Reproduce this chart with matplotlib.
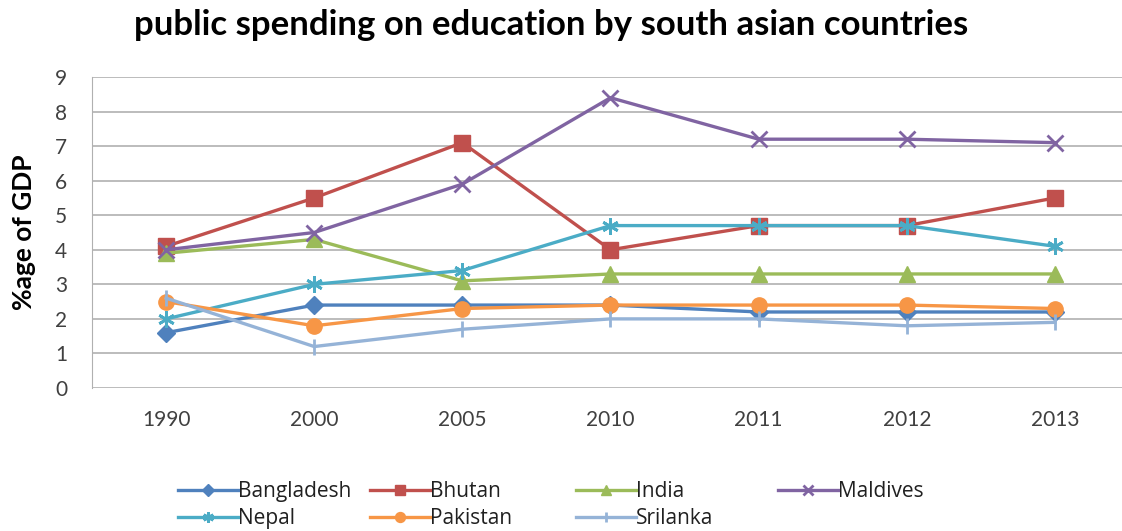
import matplotlib
matplotlib.use("Agg")
import matplotlib.pyplot as plt

years = ["1990", "2000", "2005", "2010", "2011", "2012", "2013"]
bangladesh = [1.6, 2.4, 2.4, 2.4, 2.2, 2.2, 2.2]
bhutan = [4.1, 5.5, 7.1, 4.0, 4.7, 4.7, 5.5]
india = [3.9, 4.3, 3.1, 3.3, 3.3, 3.3, 3.3]
maldives = [4.0, 4.5, 5.9, 8.4, 7.2, 7.2, 7.1]
nepal = [2.0, 3.0, 3.4, 4.7, 4.7, 4.7, 4.1]
pakistan = [2.5, 1.8, 2.3, 2.4, 2.4, 2.4, 2.3]
srilanka = [2.6, 1.2, 1.7, 2.0, 2.0, 1.8, 1.9]
y_ticks = [0, 1, 2, 3, 4, 5, 6, 7, 8, 9]

series = [
    ("Bangladesh", bangladesh, "#4F81BD", "D", 9),
    ("Bhutan", bhutan, "#C0504D", "s", 11),
    ("India", india, "#9BBB59", "^", 11),
    ("Maldives", maldives, "#8064A2", "x", 11),
    ("Nepal", nepal, "#4BACC6", (6, 2, 0), 12),
    ("Pakistan", pakistan, "#F79646", "o", 11),
    ("Srilanka", srilanka, "#95B3D7", "|", 11),
]

W, H = 1122, 531
fig = plt.figure(figsize=(W / 100, H / 100), dpi=100)
ax = fig.add_axes([92 / W, 1 - 388 / H, (1129 - 92) / W, (388 - 77) / H])

x = list(range(len(years)))
handles = {}
for name, vals, col, mk, ms in series:
    thin = mk in ("x", "|") or isinstance(mk, tuple)
    ln, = ax.plot(x, vals, color=col, marker=mk, markersize=ms, linewidth=2.4,
                  markeredgewidth=2 if thin else 1,
                  markeredgecolor=col, label=name)
    handles[name] = ln

ax.set_xlim(-0.5, len(years) - 0.5)
ax.set_ylim(0, 9)
ax.set_yticks(y_ticks)
ax.set_xticks(x)
ax.set_xticklabels(years)
ax.grid(axis="y", color="#B0B0B0", linewidth=1.2)
ax.set_axisbelow(True)
for s in ["top", "right", "bottom"]:
    ax.spines[s].set_visible(False)
ax.spines["left"].set_color("#B0B0B0")
ax.tick_params(axis="both", length=0, labelsize=15, colors="#404040", labelfontfamily="Lato")
ax.tick_params(axis="x", pad=16)
ax.tick_params(axis="y", pad=18)

fig.text(24 / W, 1 - 232 / H, "%age of GDP", fontsize=19, fontweight="bold",
         family="Lato", rotation=90, ha="center", va="center")

fig.text(551 / W, 1 - 25 / H, "public spending on education by south asian countries",
         fontsize=25, fontweight="bold", family="Lato", ha="center", va="center")

columns = [["Bangladesh", "Nepal"], ["Bhutan", "Pakistan"], ["India", "Srilanka"], ["Maldives"]]
col_x = [178, 370, 576, 778]
for names, cx in zip(columns, col_x):
    leg = fig.legend([handles[n] for n in names], names, loc="upper left",
                     bbox_to_anchor=(cx / W, 1 - 481 / H), frameon=False,
                     prop={"family": "Open Sans", "size": 15}, handlelength=2.9,
                     handletextpad=0.0, labelspacing=0.3, borderpad=0,
                     borderaxespad=0, markerscale=0.65)
    for t in leg.get_texts():
        t.set_color("#202020")

fig.savefig("out.png", dpi=100)
